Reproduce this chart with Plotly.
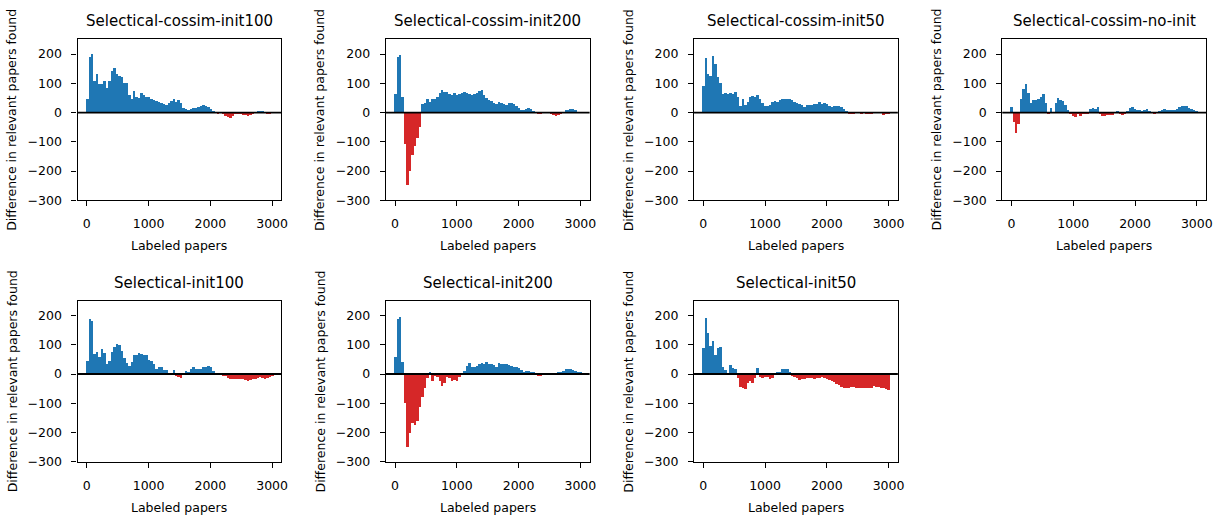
import plotly.graph_objects as go

# labeled papers (x positions of the bars)
papers = list(range(0, 3001, 40))

titles = ["Selectical-cossim-init100", "Selectical-cossim-init200", "Selectical-cossim-init50",
          "Selectical-cossim-no-init", "Selectical-init100", "Selectical-init200", "Selectical-init50"]

cossim_init100 = [45, 190, 200, 105, 130, 97, 95, 105, 82, 105, 140, 152, 130, 125, 120, 100, 100, 60, 46, 72,
                  50, 48, 65, 60, 52, 50, 45, 43, 38, 33, 30, 28, 26, 30, 38, 45, 36, 41, 30, 14,
                  10, 6, 12, 14, 15, 16, 20, 24, 22, 16, 10, 2, -3, -4, 0, -5, -12, -18, -19, -14,
                  -8, -7, -8, -9, -11, -14, -10, -6, -3, 4, 1, 5, 0, -5, -7, -3]
cossim_init200 = [63, 190, 195, 50, -110, -250, -200, -145, -115, -88, -50, 28, 30, 46, 35, 45, 46, 50, 66, 76,
                  68, 70, 62, 58, 65, 58, 62, 66, 69, 64, 62, 60, 62, 65, 71, 74, 57, 48, 41, 38,
                  32, 28, 33, 31, 28, 26, 32, 30, 28, 22, 14, 6, 8, 9, 15, 12, 5, -3, -6, -8,
                  -2, 0, -3, -8, -10, -12, -9, -8, -3, 6, 7, 9, 9, 6, 0, 0]
cossim_init50 = [89, 185, 130, 125, 192, 165, 120, 100, 63, 64, 62, 64, 62, 68, 52, 22, 46, 25, 35, 51,
                 54, 50, 59, 44, 30, 20, 21, 26, 33, 38, 33, 43, 44, 44, 45, 46, 40, 33, 30, 27,
                 23, 18, 24, 26, 25, 27, 28, 33, 28, 30, 28, 22, 18, 20, 21, 20, 16, 9, 2, -5,
                 -4, -6, 0, 0, -5, -3, -4, -8, -6, -2, 0, 0, 0, -10, -8, -4]
cossim_no_init = [18, -35, -70, -42, 45, 80, 95, 65, 30, 40, 42, 45, 50, 62, 30, -8, 14, 0, 30, 48,
                  43, 38, 24, 8, -8, -15, -18, -8, -15, -8, -4, -8, 12, 14, 10, 16, -6, -13, -14, -10,
                  -10, -10, 0, 3, -6, -10, -4, 5, 13, 18, 10, 7, 6, 5, 6, 9, 2, 0, -4, 0,
                  3, 7, 11, 8, 7, 6, 7, 10, 17, 21, 20, 20, 15, 10, 6, 5]
init100 = [44, 190, 180, 70, 76, 58, 85, 72, 34, 44, 74, 92, 102, 100, 78, 55, 39, 28, 42, 66,
           64, 72, 70, 65, 65, 48, 45, 33, 19, 25, 24, 15, 14, 5, 2, 14, -6, -10, -12, 4,
           10, 6, 18, 23, 17, 16, 18, 25, 26, 27, 25, 10, 2, 2, 0, -6, -8, -14, -17, -18,
           -16, -16, -16, -18, -20, -22, -20, -18, -16, -13, -11, -13, -16, -13, -11, -8]
init200 = [60, 190, 195, 40, -100, -250, -200, -168, -175, -160, -112, -78, -48, -15, 6, -22, -8, -10, -22, -42,
           -32, -11, -14, -22, -20, -22, -11, 5, 10, 28, 38, 26, 25, 29, 34, 38, 35, 40, 36, 33,
           32, 26, 38, 36, 36, 35, 30, 28, 25, 23, 20, 14, 8, 10, 10, 8, 6, 0, -5, -7,
           -2, 0, 0, -3, 0, 1, 6, 7, 10, 17, 18, 18, 14, 9, 8, 7]
init50 = [90, 192, 142, 97, 112, 66, 90, 94, 25, 14, -3, 31, 22, 19, -15, -44, -46, -50, -30, -24,
          -30, -14, 20, -10, -15, -11, -11, -18, -14, 3, 6, 8, 16, 18, 16, 8, -7, -11, -15, -20,
          -18, -18, -15, -13, -14, -16, -14, -12, -11, -13, -16, -20, -24, -28, -34, -37, -44, -46, -46, -46,
          -44, -45, -46, -46, -47, -47, -46, -46, -47, -42, -44, -44, -46, -49, -51, -53]

series = [cossim_init100, cossim_init200, cossim_init50, cossim_no_init, init100, init200, init50]

W, H = 1226, 523
col_px = [(78, 283), (388, 593), (698, 903), (1008, 1213)]
row_px = [(40, 203), (305, 468)]
tick_font = dict(family="DejaVu Sans", size=12.5, color="black")

fig = go.Figure()
layout = dict(width=W, height=H, margin=dict(l=0, r=0, t=0, b=0),
              paper_bgcolor="white", plot_bgcolor="white", showlegend=False,
              bargap=0, annotations=[], shapes=[])

for i, (name, vals) in enumerate(zip(titles, series)):
    r, c = divmod(i, 4)
    n = i + 1
    xs = "" if n == 1 else str(n)
    x0, x1 = col_px[c]
    top, bot = row_px[r]
    colors = ["#1f77b4" if v >= 0 else "#d62728" for v in vals]
    fig.add_trace(go.Bar(x=papers, y=vals, width=40, marker=dict(color=colors, line=dict(width=0)),
                         xaxis="x" + xs, yaxis="y" + xs, hoverinfo="x+y"))
    axis_common = dict(showline=True, mirror=True, linecolor="black", linewidth=1.2,
                       ticks="outside", ticklen=5, tickwidth=1.2, tickcolor="black",
                       showgrid=False, zeroline=False, tickfont=tick_font)
    layout["xaxis" + xs] = dict(axis_common, domain=[x0 / W, x1 / W], anchor="y" + xs,
                                range=[-150, 3150], tickvals=[0, 1000, 2000, 3000],
                                ticklabelstandoff=7)
    layout["yaxis" + xs] = dict(axis_common, domain=[1 - bot / H, 1 - top / H], anchor="x" + xs,
                                range=[-300, 250], tickvals=[-300, -200, -100, 0, 100, 200],
                                ticklabelstandoff=7)
    # zero line over the bars
    layout["shapes"].append(dict(type="line", xref="x" + xs + " domain", yref="y" + xs,
                                 x0=0, x1=1, y0=0, y1=0, layer="above",
                                 line=dict(color="black", width=1.8)))
    cx = (x0 + x1) / 2 / W
    layout["annotations"] += [
        dict(text=name, x=cx, y=1 - (top - 18.5) / H, xref="paper", yref="paper",
             showarrow=False, xanchor="center", yanchor="middle",
             font=dict(family="DejaVu Sans", size=15, color="black")),
        dict(text="Labeled papers", x=cx, y=1 - (bot + 46) / H, xref="paper", yref="paper",
             showarrow=False, xanchor="center", yanchor="middle", font=tick_font),
        dict(text="Difference in relevant papers found", x=(x0 - 66) / W, y=1 - (top + bot) / 2 / H,
             xref="paper", yref="paper", showarrow=False, textangle=-90,
             xanchor="center", yanchor="middle", font=tick_font),
    ]

fig.update_layout(layout)
fig.write_html("out.html", config={"displayModeBar": False},
               post_script="document.body.style.margin='0';")
